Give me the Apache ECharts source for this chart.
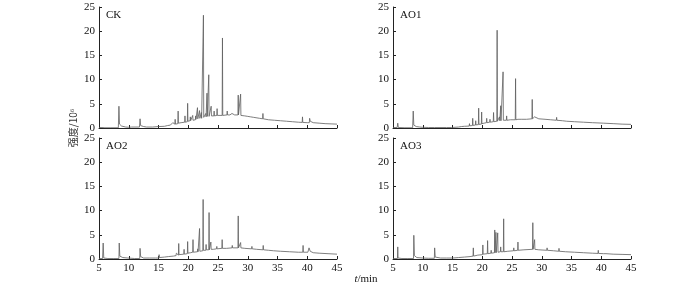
<!DOCTYPE html>
<html><head><meta charset="utf-8">
<script src="https://cdn.jsdelivr.net/npm/echarts@6/dist/echarts.min.js"></script>
<style>html,body{margin:0;padding:0;background:#fff}#c{width:700px;height:286px}</style>
</head><body><div id="c"></div>
<script>
var panelNames = ['CK','AO1','AO2','AO3'];
var xTicks = [5,10,15,20,25,30,35,40,45];
var yTicks = [0,5,10,15,20,25];

var ck = [
[5,0.1],[5.5,0.1],[6,0.05],[7,0.05],[8.25,0.05],[8.35,4.5],[8.45,0.8],[8.8,0.4],[9.5,0.2],[10,0.15],[10.5,0.2],[10.55,0.4],[10.6,0.1],[11.8,0.2],[11.9,1.9],[12.0,0.5],[12.5,0.3],[13,0.2],[14,0.2],[15,0.3],[15.2,0.7],[15.3,0.3],[16,0.35],[16.5,0.5],[16.6,0.8],[16.7,0.5],[17,0.6],[17.3,0.7],[17.4,1.1],[17.5,0.7],[17.75,0.8],[17.8,1.8],[17.85,0.8],[18.25,0.9],[18.3,3.5],[18.35,1.0],[18.8,1.1],[18.9,1.5],[19.0,1.1],[19.4,1.2],[19.45,2.5],[19.5,1.2],[19.85,1.3],[19.9,5.1],[19.95,1.4],[20.3,1.5],[20.35,2.3],[20.4,1.5],[20.7,1.6],[20.75,2.6],[20.8,1.6],[21.2,1.7],[21.25,2.5],[21.3,1.8],[21.5,1.8],[21.55,4.2],[21.6,1.9],[21.85,1.9],[21.9,3.6],[21.95,2.0],[22.15,2.0],[22.2,3.2],[22.25,2.0],[22.5,2.1],[22.55,23.3],[22.6,2.2],[22.9,2.3],[22.95,3.0],[23.0,2.3],[23.1,2.3],[23.15,7.2],[23.2,2.4],[23.4,2.4],[23.45,11.0],[23.5,2.4],[23.8,2.5],[23.85,4.5],[23.9,2.5],[24.3,2.5],[24.35,3.5],[24.4,2.5],[24.8,2.6],[24.85,4.0],[24.9,2.6],[25.2,2.6],[25.7,2.6],[25.75,18.6],[25.8,2.6],[26.1,2.6],[26.5,2.7],[26.55,3.5],[26.6,2.7],[27.0,2.7],[27.3,2.7],[27.35,3.0],[27.4,2.7],[27.8,2.7],[28.35,2.7],[28.4,6.8],[28.45,2.7],[28.75,2.6],[28.8,7.0],[28.85,2.6],[29.5,2.5],[30,2.4],[30.5,2.3],[31,2.2],[31.05,2.6],[31.1,2.2],[32,2.0],[32.5,1.9],[32.55,3.0],[32.6,1.9],[33.5,1.7],[34.5,1.6],[35.5,1.5],[36.5,1.4],[37.5,1.3],[38.5,1.2],[39.15,1.15],[39.2,2.3],[39.25,1.15],[40,1.1],[40.35,1.1],[40.4,2.0],[40.5,1.4],[41,1.1],[42,1.0],[43,0.9],[44,0.85],[45,0.8]
];
var ao1 = [
[5,0.1],[5.7,0.1],[5.8,1.0],[5.9,0.1],[7,0.05],[8.3,0.05],[8.4,3.5],[8.5,0.6],[8.9,0.3],[9.5,0.2],[9.8,0.5],[9.9,0.15],[11,0.1],[12,0.1],[12.05,0.5],[12.1,0.1],[14,0.1],[14.8,0.1],[14.85,0.4],[14.9,0.1],[16,0.2],[16.5,0.3],[17,0.35],[17.8,0.4],[17.85,0.9],[17.9,0.45],[18.35,0.5],[18.4,2.0],[18.45,0.55],[18.85,0.6],[18.9,1.5],[18.95,0.65],[19.35,0.7],[19.4,4.1],[19.45,0.75],[19.85,0.8],[19.9,3.3],[19.95,0.9],[20.3,1.0],[20.7,1.1],[20.75,2.0],[20.8,1.1],[21.25,1.2],[21.3,1.8],[21.35,1.2],[21.85,1.3],[21.9,3.2],[21.95,1.3],[22.2,1.4],[22.45,1.4],[22.5,20.2],[22.55,1.4],[22.85,1.5],[22.9,2.3],[22.95,1.5],[23.05,1.5],[23.1,4.6],[23.15,1.5],[23.45,1.5],[23.5,11.6],[23.55,1.6],[23.8,1.6],[24.05,1.6],[24.1,2.5],[24.15,1.6],[24.75,1.7],[24.8,2.1],[24.85,1.7],[25.55,1.7],[25.6,10.2],[25.65,1.7],[26.0,1.8],[26.55,1.8],[26.6,2.1],[26.65,1.8],[27.45,1.8],[27.5,1.9],[27.55,1.8],[28.35,1.9],[28.4,5.9],[28.45,1.9],[28.75,1.9],[28.8,2.3],[28.85,1.9],[29.5,1.9],[30.55,1.8],[30.6,2.1],[30.65,1.8],[31.5,1.7],[32.45,1.6],[32.5,2.2],[32.55,1.6],[33.5,1.5],[34.15,1.4],[34.2,1.6],[34.25,1.4],[35.5,1.3],[37,1.2],[38.5,1.1],[40.35,1.0],[40.4,1.4],[40.45,1.0],[42,0.9],[43.5,0.8],[45,0.75]
];
var ao2 = [
[5,0.1],[5.6,0.1],[5.7,3.3],[5.8,0.2],[6.5,0.1],[7.5,0.1],[8.35,0.1],[8.4,3.3],[8.5,0.6],[9,0.3],[9.85,0.2],[9.9,0.6],[9.95,0.2],[11,0.1],[11.85,0.1],[11.9,2.2],[12.0,0.5],[12.5,0.2],[13.5,0.2],[14.5,0.2],[15.05,0.2],[15.1,0.9],[15.15,0.3],[16,0.4],[16.65,0.5],[16.7,0.8],[16.8,0.5],[17.5,0.6],[17.95,0.7],[18.0,1.2],[18.05,0.8],[18.35,0.8],[18.4,3.2],[18.45,0.9],[19.25,1.0],[19.3,2.0],[19.35,1.0],[19.85,1.1],[19.9,3.6],[19.95,1.2],[20.4,1.3],[20.75,1.4],[20.8,4.0],[20.85,1.4],[21.55,1.5],[21.6,2.1],[21.65,1.5],[21.85,1.6],[21.9,6.3],[21.95,1.6],[22.2,1.7],[22.45,1.7],[22.5,12.3],[22.55,1.8],[22.95,1.8],[23.0,3.0],[23.05,1.9],[23.45,1.9],[23.5,9.6],[23.55,1.9],[23.75,2.0],[23.8,3.5],[23.85,2.0],[24.2,2.0],[24.75,2.1],[24.8,2.6],[24.85,2.1],[25.65,2.2],[25.7,4.0],[25.75,2.2],[26.45,2.2],[26.5,2.6],[26.55,2.2],[27.35,2.3],[27.4,2.8],[27.45,2.3],[28.35,2.3],[28.4,8.9],[28.45,2.3],[28.75,2.3],[28.8,3.4],[28.85,2.3],[29.5,2.2],[30.65,2.1],[30.7,2.6],[30.75,2.1],[31.5,2.0],[32.55,1.9],[32.6,2.8],[32.65,1.9],[33.5,1.8],[34.35,1.7],[34.4,1.9],[34.45,1.7],[35.5,1.6],[37,1.5],[38.5,1.4],[39.25,1.4],[39.3,2.8],[39.35,1.4],[40.1,1.4],[40.3,2.3],[40.5,1.6],[41,1.3],[42,1.2],[43.5,1.1],[45,1.0]
];
var ao3 = [
[5,0.1],[5.75,0.1],[5.8,2.5],[5.85,0.2],[6.5,0.1],[7.5,0.1],[8.45,0.1],[8.5,4.9],[8.6,0.7],[9,0.3],[10,0.2],[11,0.15],[11.95,0.15],[12.0,2.3],[12.1,0.4],[13,0.2],[14,0.2],[15.05,0.2],[15.1,0.5],[15.15,0.2],[16,0.3],[17,0.4],[17.95,0.5],[18.0,0.8],[18.05,0.5],[18.45,0.6],[18.5,2.3],[18.55,0.6],[19.25,0.8],[19.3,1.1],[19.35,0.8],[20.05,0.9],[20.1,2.9],[20.15,1.0],[20.85,1.1],[20.9,3.8],[20.95,1.1],[21.45,1.2],[21.5,1.8],[21.55,1.2],[22.05,1.3],[22.1,6.0],[22.15,1.3],[22.25,1.3],[22.3,5.5],[22.35,1.3],[22.55,1.4],[22.6,5.4],[22.65,1.4],[23.05,1.5],[23.1,2.5],[23.15,1.5],[23.55,1.5],[23.6,8.3],[23.65,1.5],[24.3,1.6],[25.25,1.7],[25.3,2.3],[25.35,1.7],[25.95,1.8],[26.0,3.5],[26.05,1.8],[27,1.9],[28.45,2.0],[28.5,7.5],[28.55,2.0],[28.75,2.0],[28.8,4.0],[28.85,2.0],[29.5,1.9],[30.85,1.8],[30.9,2.3],[30.95,1.8],[32,1.7],[32.85,1.6],[32.9,2.2],[32.95,1.6],[34,1.5],[35.5,1.4],[37,1.3],[38.5,1.2],[39.45,1.15],[39.5,1.8],[39.55,1.15],[40.4,1.1],[40.6,1.5],[40.8,1.1],[42,1.0],[43.5,0.95],[45,0.9]
];
var seriesData = [ck, ao1, ao2, ao3];

var FONT = '"Liberation Serif","DejaVu Serif",serif';
var grids = [
  {left:99, top:7, width:238, height:121},
  {left:393, top:7, width:238, height:121},
  {left:99, top:138, width:238, height:121},
  {left:393, top:138, width:238, height:121}
];
var xAxes = [], yAxes = [], series = [], graphics = [];
for (var i = 0; i < 4; i++) {
  var bottom = i >= 2;
  xAxes.push({
    type:'value', gridIndex:i, min:xTicks[0], max:xTicks[xTicks.length-1], interval:5,
    axisLine:{onZero:false, lineStyle:{color:'#222', width:1}},
    axisTick:{inside:true, length:3, lineStyle:{color:'#222'}},
    axisLabel:{show:bottom, color:'#111', fontFamily:FONT, fontSize:11, margin:4},
    splitLine:{show:false}
  });
  yAxes.push({
    type:'value', gridIndex:i, min:yTicks[0], max:yTicks[yTicks.length-1], interval:5,
    axisLine:{show:true, lineStyle:{color:'#222', width:1}},
    axisTick:{show:true, inside:true, length:3, lineStyle:{color:'#222'}},
    axisLabel:{color:'#111', fontFamily:FONT, fontSize:11, margin:4},
    splitLine:{show:false}
  });
  series.push({
    type:'line', xAxisIndex:i, yAxisIndex:i, data:seriesData[i],
    showSymbol:false, symbol:'none', animation:false,
    lineStyle:{color:'#5e5e5e', width:0.8}
  });
  graphics.push({
    type:'text', left:grids[i].left + 7, top:grids[i].top + 3,
    style:{text:panelNames[i], font:'11px ' + FONT, fill:'#111'}
  });
}
graphics.push({
  type:'text', x:73, y:128, rotation:Math.PI/2,
  style:{text:'强度/10⁶', font:'10px "Noto Sans CJK SC", ' + FONT, fill:'#333', align:'center', verticalAlign:'middle'}
});
graphics.push({
  type:'text', x:366, y:279,
  style:{
    text:'{i|t}/min', align:'center', verticalAlign:'middle',
    rich:{i:{fontStyle:'italic', fontFamily:FONT, fontSize:11, fill:'#111'}},
    font:'11px ' + FONT, fill:'#111'
  }
});
var chart = echarts.init(document.getElementById('c'), null, {renderer:'canvas'});
chart.setOption({
  animation:false,
  grid:grids, xAxis:xAxes, yAxis:yAxes, series:series, graphic:graphics
});
</script>
</body></html>
